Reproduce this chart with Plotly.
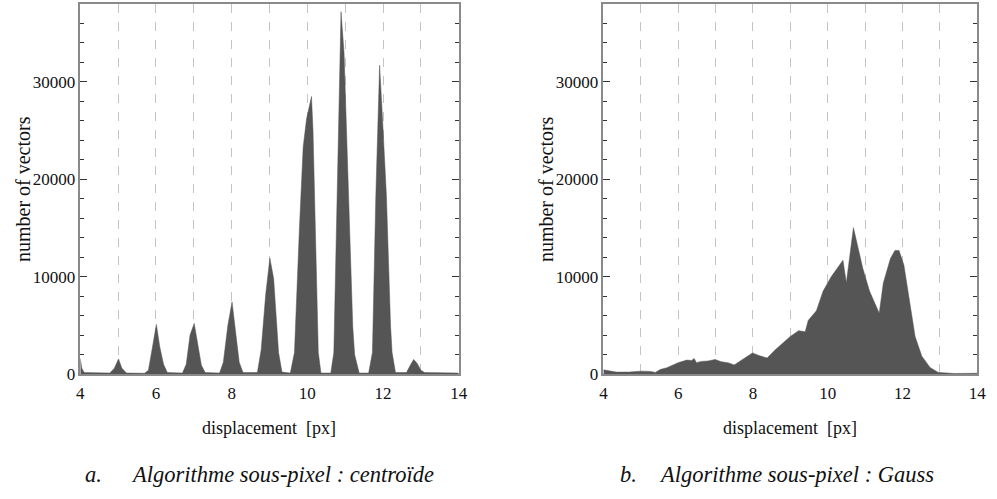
import plotly.graph_objects as go

# histogram outlines (displacement in px, number of vectors)
centroid_x = [4.00, 4.04, 4.10, 4.50, 4.78, 4.90, 5.01, 5.10, 5.22, 5.70, 5.80, 5.90, 6.01, 6.10, 6.20, 6.30,
              6.70, 6.80, 6.90, 7.01, 7.10, 7.20, 7.30, 7.68, 7.78, 7.90, 8.01, 8.10, 8.20, 8.30,
              8.68, 8.78, 8.90, 9.01, 9.11, 9.24, 9.33, 9.55, 9.66, 9.79, 9.89, 9.98, 10.11, 10.15,
              10.22, 10.29, 10.36, 10.62, 10.70, 10.89, 10.97, 11.09, 11.20, 11.25, 11.37, 11.62,
              11.72, 11.81, 11.91, 11.98, 12.09, 12.20, 12.24, 12.33, 12.62, 12.72, 12.81, 12.90,
              13.00, 13.10, 14.00]
centroid_y = [1600, 600, 150, 80, 100, 600, 1550, 600, 100, 80, 400, 2600, 5100, 2800, 1000, 150,
              100, 1000, 4000, 5200, 3000, 900, 150, 100, 1200, 5000, 7400, 4500, 1200, 150,
              150, 2500, 8200, 11900, 9800, 2200, 200, 100, 2200, 14900, 23300, 26200, 28500, 25000,
              14000, 2200, 100, 100, 2200, 37200, 33000, 18300, 4900, 2000, 100, 100,
              2200, 18300, 31700, 26700, 18300, 4900, 2200, 150, 150, 900, 1500, 1100,
              400, 150, 100]

gauss_x = [4.00, 4.34, 4.69, 5.00, 5.26, 5.39, 5.52, 5.70, 6.00, 6.23, 6.36, 6.43, 6.49, 6.62, 6.80,
           6.99, 7.15, 7.33, 7.50, 7.72, 7.99, 8.16, 8.38, 8.60, 8.82, 9.00, 9.22, 9.40, 9.48,
           9.70, 9.88, 10.10, 10.41, 10.50, 10.69, 10.94, 11.12, 11.38, 11.49, 11.68, 11.80,
           11.91, 12.04, 12.21, 12.34, 12.52, 12.74, 12.96, 13.40, 14.00]
gauss_y = [440, 200, 200, 300, 270, 170, 470, 650, 1170, 1430, 1400, 1600, 1170, 1300, 1340,
           1500, 1270, 1170, 940, 1500, 2170, 1900, 1640, 2500, 3200, 3850, 4450, 4350, 5510,
           6510, 8520, 10020, 11690, 9360, 15030, 10860, 8520, 6250, 9360, 11860, 12690,
           12690, 11190, 6850, 3850, 1840, 670, 170, 50, 80]

x_ticks = [4, 6, 8, 10, 12, 14]
y_ticks = [0, 10000, 20000, 30000]
captions = [("a.", "Algorithme sous-pixel : centroïde"), ("b.", "Algorithme sous-pixel : Gauss")]

FILL = "#555555"
FRAME = "#8a8a8a"
FONT = "Liberation Serif"
INK = "#111"

fig = go.Figure()
fig.add_trace(go.Scatter(x=centroid_x, y=centroid_y, mode="lines", fill="tozeroy",
                         line=dict(color=FILL, width=0.5), fillcolor=FILL,
                         showlegend=False, xaxis="x", yaxis="y"))
fig.add_trace(go.Scatter(x=gauss_x, y=gauss_y, mode="lines", fill="tozeroy",
                         line=dict(color=FILL, width=0.5), fillcolor=FILL,
                         showlegend=False, xaxis="x2", yaxis="y2"))

W, H = 997, 499
domains = [(77.3 / W, 460.7 / W), (607.3 / W, 986.0 / W)]
ydom = (1 - 381.7 / H, 1 - 4.0 / H)

xax = dict(range=[4, 14], tickvals=x_ticks, showgrid=True, gridcolor="#c4c4c4", griddash="dash",
           gridwidth=1, minor=dict(dtick=1, tick0=0, showgrid=True, gridcolor="#c4c4c4",
                                   griddash="dash", gridwidth=1),
           showline=True, linecolor=FRAME, linewidth=1.5, mirror=True, ticks="",
           ticklabelstandoff=3, zeroline=False, tickfont=dict(family=FONT, size=17, color=INK))
yax = dict(range=[0, 38000], tickvals=y_ticks, tickformat="d", showgrid=False, zeroline=False,
           showline=True, linecolor=FRAME, linewidth=1.5, mirror="ticks",
           ticks="inside", ticklen=7, tickcolor="#333", tickwidth=1,
           minor=dict(dtick=2000, ticks="inside", ticklen=4, tickcolor="#333", showgrid=False),
           tickfont=dict(family=FONT, size=17, color=INK))

fig.update_layout(
    width=W, height=H, margin=dict(l=0, r=0, t=0, b=0),
    paper_bgcolor="white", plot_bgcolor="white",
    xaxis=dict(xax, domain=domains[0], anchor="y"),
    yaxis=dict(yax, domain=ydom, anchor="x"),
    xaxis2=dict(xax, domain=domains[1], anchor="y2"),
    yaxis2=dict(yax, domain=ydom, anchor="x2"),
)

annots = []
for d0, d1 in domains:
    annots.append(dict(text="displacement  [px]", x=(d0 + d1) / 2, y=1 - 437 / H,
                       xref="paper", yref="paper", xanchor="center", yanchor="middle",
                       showarrow=False, font=dict(family=FONT, size=18, color=INK)))
    annots.append(dict(text="number of vectors", x=d0 - 58 / W, y=(ydom[0] + ydom[1]) / 2,
                       xref="paper", yref="paper", xanchor="center", yanchor="middle",
                       showarrow=False, textangle=-90,
                       font=dict(family=FONT, size=20, color=INK)))
letter_x = [80, 622]
text_x = [127, 662]
for i, (letter, caption) in enumerate(captions):
    annots.append(dict(text="<i>" + letter + "</i>", x=letter_x[i] / W, y=1 - 484 / H,
                       xref="paper", yref="paper", xanchor="left", yanchor="middle",
                       showarrow=False, font=dict(family=FONT, size=22.5, color=INK)))
    annots.append(dict(text="<i>" + caption + "</i>", x=text_x[i] / W, y=1 - 484 / H,
                       xref="paper", yref="paper", xanchor="left", yanchor="middle",
                       showarrow=False, font=dict(family=FONT, size=22.5, color=INK)))
fig.update_layout(annotations=annots)

# page margin off so the 997x499 figure sits at the window origin
fig.write_html("out.html", config={"displayModeBar": False},
               post_script="document.body.style.margin = '0px';"
                           "document.documentElement.style.overflow = 'hidden';")
